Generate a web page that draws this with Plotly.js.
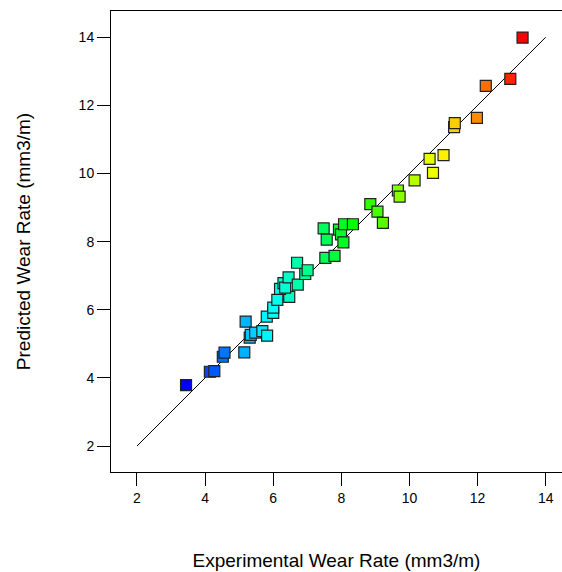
<!DOCTYPE html>
<html>
<head>
<meta charset="utf-8">
<script src="https://cdn.plot.ly/plotly-3.0.1.min.js"></script>
<style>html,body{margin:0;padding:0;background:#fff;}#chart{width:562px;height:572px;}</style>
</head>
<body>
<div id="chart"></div>
<script>
// Experimental (actual) wear rate, mm3/m
const experimental = [3.44, 4.14, 4.27, 4.52, 4.57, 5.15, 5.19, 5.31, 5.34, 5.47,
  5.68, 5.82, 5.81, 6.00, 6.00, 6.12, 6.47, 6.20, 6.30, 6.35,
  6.45, 6.70, 6.72, 6.94, 7.01, 7.53, 7.80, 7.48, 7.57, 7.93,
  7.99, 8.06, 8.08, 8.34, 8.85, 9.06, 9.22, 9.66, 9.71, 10.15,
  10.59, 10.69, 11.00, 11.31, 11.33, 11.98, 12.24, 12.96, 13.32];
// Predicted wear rate, mm3/m
const predicted = [3.79, 4.18, 4.20, 4.62, 4.74, 4.75, 5.65, 5.18, 5.26, 5.33,
  5.37, 5.24, 5.80, 5.91, 6.06, 6.29, 6.38, 6.61, 6.78, 6.65,
  6.95, 7.38, 6.74, 7.05, 7.16, 7.52, 7.58, 8.39, 8.06, 8.35,
  8.21, 7.98, 8.51, 8.51, 9.10, 8.88, 8.55, 9.50, 9.32, 9.80,
  10.43, 10.02, 10.54, 11.36, 11.48, 11.63, 12.57, 12.78, 13.99];
// Reference line y = x
const lineX = [2, 14];
const lineY = [2, 14];
const tickValues = [2, 4, 6, 8, 10, 12, 14];
const tickLabels = ['2', '4', '6', '8', '10', '12', '14'];

const tickFont = {family: 'Liberation Sans, Arial, sans-serif', size: 14, color: '#000'};
const titleFont = {family: 'Liberation Sans, Arial, sans-serif', size: 19, color: '#000'};

const traces = [
  {
    x: lineX, y: lineY, type: 'scatter', mode: 'lines',
    line: {color: '#000', width: 1}, hoverinfo: 'skip', showlegend: false
  },
  {
    x: experimental, y: predicted, type: 'scatter', mode: 'markers',
    marker: {
      symbol: 'square', size: 11,
      color: experimental, cmin: 3.44, cmax: 13.32,
      colorscale: [[0, 'rgb(0,0,255)'], [0.25, 'rgb(0,255,255)'], [0.5, 'rgb(0,255,0)'], [0.75, 'rgb(255,255,0)'], [1, 'rgb(255,0,0)']],
      showscale: false,
      line: {color: '#222', width: 1.2}
    },
    showlegend: false
  }
];

const layout = {
  width: 562, height: 572,
  margin: {l: 111, r: 0, t: 11, b: 100, pad: 0},
  paper_bgcolor: '#fff', plot_bgcolor: '#fff',
  showlegend: false,
  xaxis: {
    range: [1.237, 14.478], autorange: false,
    tickmode: 'array', tickvals: tickValues, ticktext: tickLabels,
    ticks: 'outside', ticklen: 13, tickwidth: 1, tickcolor: '#000',
    showline: true, linecolor: '#000', linewidth: 1, mirror: true,
    showgrid: false, zeroline: false,
    tickfont: tickFont,
    title: {text: 'Experimental Wear Rate (mm3/m)', font: titleFont, standoff: 48}
  },
  yaxis: {
    range: [1.237, 14.77], autorange: false,
    tickmode: 'array', tickvals: tickValues, ticktext: tickLabels,
    ticks: 'outside', ticklen: 13, tickwidth: 1, tickcolor: '#000',
    showline: true, linecolor: '#000', linewidth: 1, mirror: false,
    showgrid: false, zeroline: false,
    tickfont: tickFont,
    title: {text: 'Predicted Wear Rate (mm3/m)', font: titleFont, standoff: 42}
  }
};

Plotly.newPlot('chart', traces, layout, {displayModeBar: false, staticPlot: true});
</script>
</body>
</html>
